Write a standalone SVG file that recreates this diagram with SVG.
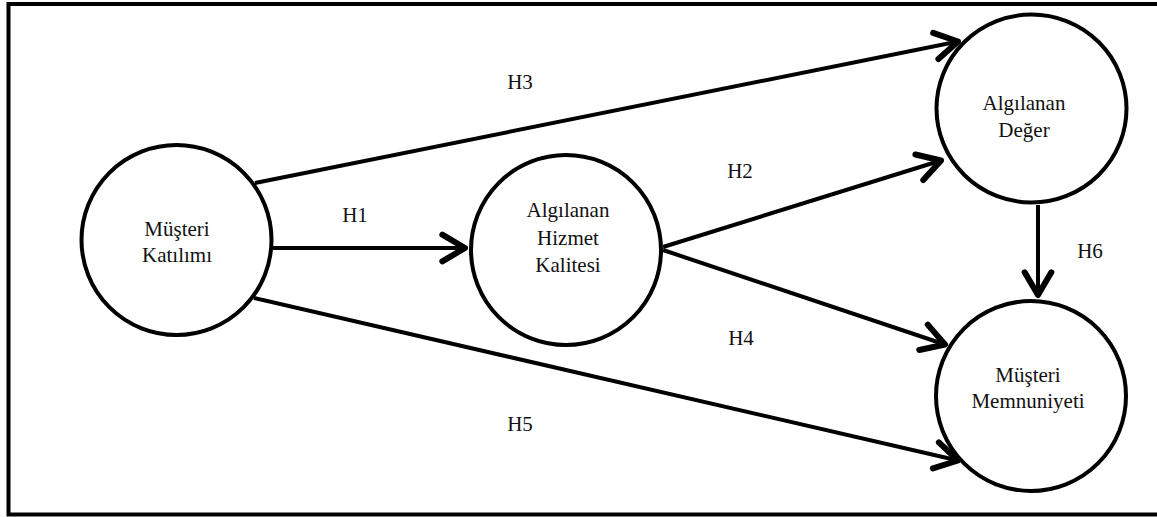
<svg xmlns="http://www.w3.org/2000/svg" width="1157" height="517" viewBox="0 0 1157 517">
<style>
.node{fill:#fff;stroke:#000;stroke-width:4}
text{font-family:'Liberation Serif','Times New Roman',Tinos,serif;font-size:21px;fill:#111;text-anchor:middle}
.c{fill:none;stroke:#000;stroke-width:4;marker-end:url(#ah)}
</style>
<defs>
<marker id="ah" markerUnits="userSpaceOnUse" markerWidth="40" markerHeight="40" refX="0" refY="0" viewBox="-25 -15 30 30" orient="auto" overflow="visible">
<path d="M-17,-10 L0,0 L-17,10" fill="none" stroke="#000" stroke-width="4.5" stroke-linecap="round" stroke-linejoin="round"/>
</marker>
</defs>
<rect x="0" y="0" width="1157" height="517" fill="#fff"/>
<rect x="8.5" y="4" width="1160" height="510.5" fill="none" stroke="#000" stroke-width="4"/>
<g id="connectors">
<line class="c" x1="273" y1="248" x2="465" y2="248"/>
<line class="c" x1="255" y1="183" x2="958" y2="41.5"/>
<line class="c" x1="663" y1="247" x2="941" y2="160.5"/>
<line class="c" x1="663" y1="250" x2="945" y2="344.5"/>
<line class="c" x1="254" y1="298" x2="958" y2="460.5"/>
<line class="c" x1="1038" y1="205" x2="1038" y2="295"/>
</g>
<g id="labels" font-family="'Liberation Serif', serif">
<text x="520" y="89">H3</text>
<text x="355" y="222">H1</text>
<text x="740" y="178">H2</text>
<text x="741" y="345">H4</text>
<text x="520" y="431">H5</text>
<text x="1090" y="258">H6</text>
</g>
<g id="n1">
<circle class="node" cx="176.5" cy="240" r="95"/>
<text x="177" y="236">Müşteri</text>
<text x="177" y="262">Katılımı</text>
</g>
<g id="n2">
<circle class="node" cx="566" cy="250" r="95"/>
<text x="568" y="217">Algılanan</text>
<text x="568" y="245">Hizmet</text>
<text x="568" y="272">Kalitesi</text>
</g>
<g id="n3">
<ellipse class="node" cx="1031.5" cy="108.5" rx="95" ry="94"/>
<text x="1024" y="110">Algılanan</text>
<text x="1024" y="136.5">Değer</text>
</g>
<g id="n4">
<circle class="node" cx="1031" cy="396" r="95"/>
<text x="1028" y="382">Müşteri</text>
<text x="1028" y="408">Memnuniyeti</text>
</g>
</svg>
